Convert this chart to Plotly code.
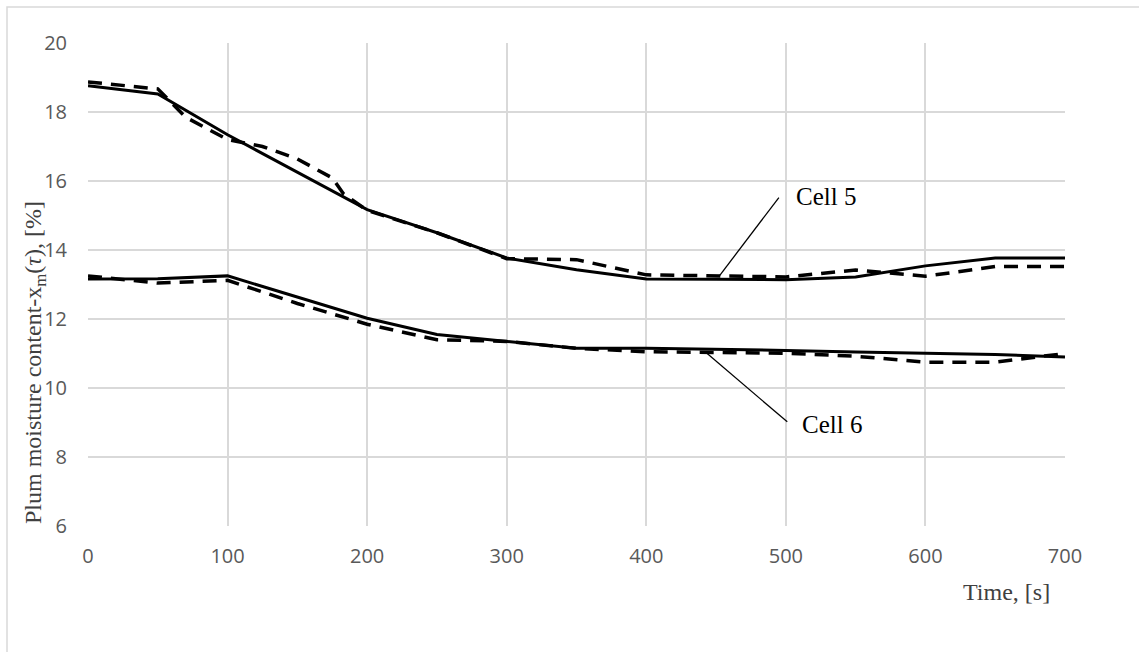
import plotly.graph_objects as go

time_s = [0, 50, 100, 150, 200, 250, 300, 350, 400, 450, 500, 550, 600, 650, 700]

cell5_model = [18.76, 18.52, 17.34, 16.25, 15.17, 14.5, 13.77, 13.43, 13.16, 13.15, 13.14, 13.22, 13.54, 13.77, 13.77]
cell5_exp_t = [0, 50, 70, 100, 125, 150, 175, 183, 200, 250, 300, 350, 400, 450, 500, 550, 600, 650, 700]
cell5_exp = [18.87, 18.67, 17.85, 17.2, 17.0, 16.64, 16.09, 15.63, 15.15, 14.5, 13.75, 13.72, 13.28, 13.24, 13.22, 13.42, 13.24, 13.52, 13.52]

cell6_model = [13.16, 13.17, 13.25, 12.63, 12.02, 11.55, 11.35, 11.15, 11.15, 11.13, 11.09, 11.04, 11.0, 10.97, 10.9]
cell6_exp = [13.25, 13.04, 13.12, 12.45, 11.85, 11.4, 11.35, 11.15, 11.05, 11.03, 11.01, 10.92, 10.75, 10.75, 11.0]

x_ticks = [0, 100, 200, 300, 400, 500, 600, 700]
y_ticks = [6, 8, 10, 12, 14, 16, 18, 20]

label5 = dict(text="Cell 5", x=506, y=15.55, line=((495, 15.52), (452, 13.23)))
label6 = dict(text="Cell 6", x=510, y=8.93, line=((443, 11.02), (501, 9.02)))

W, H = 1139, 652
L, R, T, B = 88, 74, 43, 126
pw, ph = W - L - R, H - T - B

def px(xp):
    return (xp - L) / pw

def py(yp):
    return (H - B - yp) / ph

fig = go.Figure()
line_solid = dict(color="black", width=3)
line_dash = dict(color="black", width=3.5, dash="14px,9px")
fig.add_trace(go.Scatter(x=time_s, y=cell5_model, mode="lines", line=line_solid, showlegend=False))
fig.add_trace(go.Scatter(x=cell5_exp_t, y=cell5_exp, mode="lines", line=line_dash, showlegend=False))
fig.add_trace(go.Scatter(x=time_s, y=cell6_model, mode="lines", line=line_solid, showlegend=False))
fig.add_trace(go.Scatter(x=time_s, y=cell6_exp, mode="lines", line=line_dash, showlegend=False))

serif = "Liberation Serif, Times New Roman, serif"
for lab in (label5, label6):
    (x0, y0), (x1, y1) = lab["line"]
    fig.add_shape(type="line", x0=x0, y0=y0, x1=x1, y1=y1, xref="x", yref="y",
                  line=dict(color="black", width=1.3))
    fig.add_annotation(x=lab["x"], y=lab["y"], text=lab["text"], showarrow=False,
                       xanchor="left", yanchor="middle",
                       font=dict(family=serif, size=25, color="black"))

fig.add_annotation(x=px(1052), y=py(592), xref="paper", yref="paper", text="Time, [s]",
                   showarrow=False, xanchor="right", yanchor="middle",
                   font=dict(family=serif, size=24, color="#404040"))
fig.add_annotation(x=px(35), y=py(363), xref="paper", yref="paper",
                   text="Plum moisture content-x<sub>m</sub>(<i>τ</i>), [%]",
                   showarrow=False, textangle=-90, xanchor="center", yanchor="middle",
                   font=dict(family=serif, size=24, color="#404040"))

fig.add_shape(type="rect", xref="paper", yref="paper",
              x0=px(7), y0=py(7), x1=px(1150), y1=py(665),
              line=dict(color="#d9d9d9", width=1.5), layer="below")

tickfont = dict(family="Open Sans, sans-serif", size=20, color="#595959")
fig.update_xaxes(range=[0, 700], tickvals=x_ticks, showgrid=True, gridcolor="#d9d9d9", gridwidth=1.5,
                 zeroline=False, showline=False, tickfont=tickfont, ticklabelstandoff=16)
fig.update_yaxes(range=[6, 20], tickvals=y_ticks, showgrid=True, gridcolor="#d9d9d9", gridwidth=1.5,
                 zeroline=False, showline=False, tickfont=tickfont, ticklabelstandoff=20)
fig.update_layout(width=W, height=H, margin=dict(l=L, r=R, t=T, b=B),
                  plot_bgcolor="white", paper_bgcolor="white")
fig.write_html("out.html")
